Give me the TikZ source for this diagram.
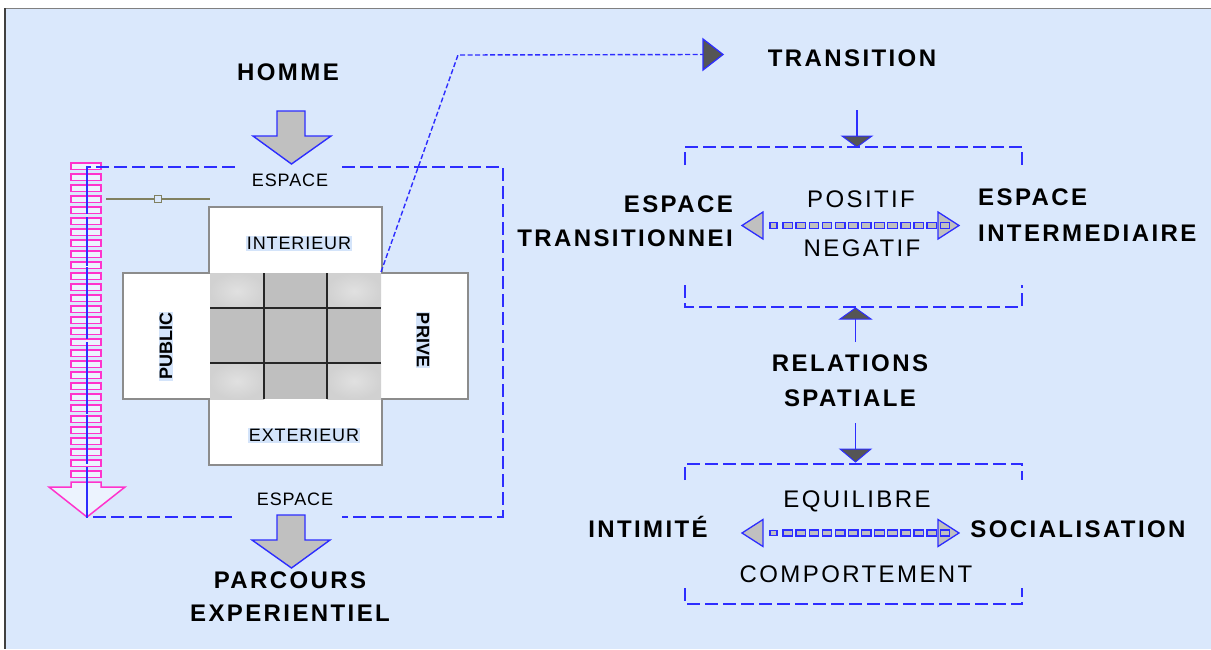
\documentclass[tikz,border=0pt]{standalone}
\usepackage{fontspec}
\setmainfont{Liberation Sans}
\newfontfamily\lsfont[LetterSpace=10]{Liberation Sans}
\newfontfamily\lssmall[LetterSpace=5]{Liberation Sans}
\definecolor{bgblue}{RGB}{218,232,252}
\definecolor{lineblue}{RGB}{45,45,255}
\definecolor{pinkm}{RGB}{255,51,204}
\definecolor{olivel}{RGB}{128,128,96}
\definecolor{trigray}{RGB}{85,85,85}
\definecolor{blockgray}{RGB}{192,192,192}
\definecolor{hilite}{RGB}{212,228,250}
\begin{document}
\begin{tikzpicture}[x=1pt,y=-1pt,
  bigtxt/.style={font=\lsfont\bfseries\fontsize{24}{28}\selectfont, inner sep=0pt, anchor=base},
  regtxt/.style={font=\lsfont\fontsize{24}{28}\selectfont, inner sep=0pt, anchor=base},
  smalltxt/.style={font=\lssmall\fontsize{18}{22}\selectfont, inner sep=0pt, anchor=base},
  sidetxt/.style={font=\bfseries\fontsize{18}{20}\selectfont, inner sep=1pt, fill=hilite},
  frameline/.style={draw=lineblue, line width=1.7pt, dash pattern=on 13pt off 5pt},
  linkline/.style={draw=lineblue, line width=1.4pt, dash pattern=on 5pt off 2.5pt},
  blockarrow/.style={fill=blockgray, draw=lineblue, line width=1.4pt, line join=miter},
  smallhead/.style={fill=trigray, draw=lineblue, line width=1pt},
  stemline/.style={draw=lineblue, line width=1.6pt},
  chainsq/.style={fill=blockgray, draw=lineblue, line width=1.3pt},
  rungbox/.style={draw=pinkm, line width=1.5pt, fill=bgblue!50!white},
  cellB/.style={fill=gray!50},
]
\useasboundingbox (0,0) rectangle (1211,649);
% background frame
\fill[white] (0,0) rectangle (1211,649);
\fill[bgblue] (6,9) rectangle (1211,649);
\draw[gray, line width=1pt] (5,8.5) -- (1211,8.5);
\draw[black!75, line width=2pt] (5,8) -- (5,649);

% ---------- pink striped arrow ----------
\foreach \i in {0,...,28}
  \draw[rungbox] (71,{163+11*\i}) rectangle (101,{169.5+11*\i});
\draw[draw=pinkm, line width=1.5pt, fill=bgblue!50!white]
  (71,482) -- (101,482) -- (101,487) -- (125,487) -- (87,517) -- (49,487) -- (71,487) -- cycle;

% ---------- left dashed frame ----------
\coordinate (fTL) at (87,167);
\coordinate (fTR) at (503,167);
\coordinate (fBL) at (87,517);
\coordinate (fBR) at (503,517);
\coordinate (gT1) at (235,167);
\coordinate (gT2) at (342,167);
\coordinate (gB1) at (235,517);
\coordinate (gB2) at (342,517);
\draw[frameline] (gT1) -- (fTL) -- (fBL) -- (gB1);
\draw[frameline] (gT2) -- (fTR) -- (fBR) -- (gB2);

% olive slider
\coordinate (slA) at (106,199);
\coordinate (slB) at (210,199);
\draw[olivel, line width=1.5pt] (slA) -- (slB);
\node[draw=olivel, fill=bgblue, line width=1.2pt, minimum size=7pt, inner sep=0pt] (slider) at (158,199) {};

% ---------- cross ----------
\draw[fill=white, draw=gray!90, line width=1.6pt]
  (209,207) -- (382,207) -- (382,273) -- (468,273) -- (468,399) -- (382,399)
  -- (382,465) -- (209,465) -- (209,399) -- (123,399) -- (123,273) -- (209,273) -- cycle;
\foreach \cx/\cy in {210/273, 327/273, 210/363, 327/363}
  \shade[inner color=gray!24, outer color=gray!36] (\cx,\cy) rectangle ++(54,36);
\fill[cellB] (264,273) rectangle (327,308);
\fill[cellB] (210,308) rectangle (264,363);
\fill[cellB] (264,308) rectangle (327,363);
\fill[cellB] (327,308) rectangle (381,363);
\fill[cellB] (264,363) rectangle (327,399);
\draw[black!85, line width=1.6pt] (264,273) -- (264,399) (327,273) -- (327,399)
  (210,308) -- (381,308) (210,363) -- (381,363);

\node[smalltxt, fill=hilite, inner sep=1pt] (interieur) at (299,249.5) {INTERIEUR};
\node[smalltxt, fill=hilite, inner sep=1pt] (exterieur) at (304,441.5) {EXTERIEUR};
\node[sidetxt, rotate=90] (public) at (166,346) {PUBLIC};
\node[sidetxt, rotate=-90] (prive) at (423,340) {PRIVE};

% ---------- block arrows ----------
\draw[blockarrow] (277,111) -- (305,111) -- (305,136) -- (331,136) -- (291.5,164) -- (253,136) -- (277,136) -- cycle;
\draw[blockarrow] (277,515) -- (305,515) -- (305,540) -- (330,540) -- (291.5,568) -- (252,540) -- (277,540) -- cycle;

\node[bigtxt] (homme) at (288,80.5) {HOMME};
\node[smalltxt] (espaceT) at (290,186.5) {ESPACE};
\node[smalltxt] (espaceB) at (295,505.5) {ESPACE};
\node[bigtxt] (parcours) at (290,588.5) {PARCOURS};
\node[bigtxt] (experientiel) at (290,621.5) {EXPERIENTIEL};

% ---------- link to TRANSITION ----------
\coordinate (crossC) at (381,272);
\coordinate (bend) at (458,55);
\coordinate (triBack) at (703,54.5);
\draw[linkline] (crossC) -- (bend) -- (triBack);
\draw[smallhead, line width=1.3pt] (703,39) -- (723,54.5) -- (703,70) -- cycle;

\node[bigtxt] (transition) at (852,66.5) {TRANSITION};

% small arrow under TRANSITION
\coordinate (a1s) at (857,110);
\coordinate (a1e) at (857,136);
\draw[stemline] (a1s) -- (a1e);
\draw[smallhead] (842,136) -- (872,136) -- (857,147) -- cycle;

% ---------- upper bracket ----------
\draw[frameline] (685,165) -- (685,147) -- (1022,147) -- (1022,165);
\draw[frameline] (685,285) -- (685,307) -- (1022,307) -- (1022,285);

\node[bigtxt, anchor=base east] (espL1) at (733,212.5) {ESPACE};
\node[bigtxt, anchor=base east] (espL2) at (733,246.5) {TRANSITIONNEI};
\node[bigtxt, anchor=base west] (espR1) at (978,205.5) {ESPACE};
\node[bigtxt, anchor=base west] (espR2) at (978,241.5) {INTERMEDIAIRE};
\node[regtxt] (positif) at (861,207.5) {POSITIF};
\node[regtxt] (negatif) at (862,256.5) {NEGATIF};

\begin{scope}[shift={(0,225.5)}]
  \draw[blockarrow, line width=1.3pt] (763,-13.5) -- (742,0) -- (763,13.5) -- cycle;
  \draw[blockarrow, line width=1.3pt] (938,-13.5) -- (959,0) -- (938,13.5) -- cycle;
  \draw[chainsq] (770,-2.7) rectangle (777,2.7);
  \foreach \i in {0,...,12}
    \draw[chainsq] ({783+13.1*\i},-3) rectangle ({792.5+13.1*\i},3);
\end{scope}

% ---------- relations ----------
\node[bigtxt] (relations) at (850,371.5) {RELATIONS};
\node[bigtxt] (spatiale) at (850,406.5) {SPATIALE};

\coordinate (a2s) at (855.5,342);
\coordinate (a2e) at (855.5,319);
\draw[stemline] (a2s) -- (a2e);
\draw[smallhead] (840,319) -- (871,319) -- (855.5,308) -- cycle;

\coordinate (a3s) at (855.5,423);
\coordinate (a3e) at (855.5,449);
\draw[stemline] (a3s) -- (a3e);
\draw[smallhead] (840,449) -- (871,449) -- (855.5,462) -- cycle;

% ---------- lower bracket ----------
\draw[frameline] (685,480) -- (685,464) -- (1022,464) -- (1022,480);
\draw[frameline] (685,588) -- (685,604) -- (1022,604) -- (1022,588);

\node[regtxt] (equilibre) at (857,507.5) {EQUILIBRE};
\node[regtxt] (comportement) at (856,582.5) {COMPORTEMENT};
\node[bigtxt] (intimite) at (648,537.5) {INTIMITÉ};
\node[bigtxt] (socialisation) at (1078,537.5) {SOCIALISATION};

\begin{scope}[shift={(0,533)}]
  \draw[blockarrow, line width=1.3pt] (763,-13.5) -- (742,0) -- (763,13.5) -- cycle;
  \draw[blockarrow, line width=1.3pt] (938,-13.5) -- (959,0) -- (938,13.5) -- cycle;
  \draw[chainsq] (770,-2.7) rectangle (777,2.7);
  \foreach \i in {0,...,12}
    \draw[chainsq] ({783+13.1*\i},-3) rectangle ({792.5+13.1*\i},3);
\end{scope}

% blue line inside pink arrow on top
\draw[draw=lineblue, line width=1.5pt, dash pattern=on 22pt off 3pt] (fTL) -- (fBL);
\end{tikzpicture}
\end{document}
